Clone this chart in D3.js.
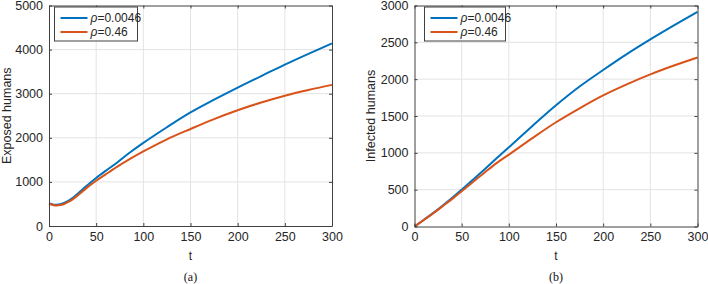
<!DOCTYPE html>
<html><head><meta charset="utf-8">
<script src="https://cdn.jsdelivr.net/npm/d3@7/dist/d3.min.js"></script>
<style>
body{margin:0;background:#fff;}
svg{display:block;}
text{font-family:"Liberation Sans",Arial,Helvetica,sans-serif;}
</style></head><body>
<svg id="chart" width="708" height="284"></svg>
<script>
const tValues = [0,4,8,12,16,20,25,31,40,50,60,72,85,100,125,150,175,200,225,250,275,300];
const exposedLow  = [510,490,484,495,525,565,635,745,915,1090,1250,1435,1655,1885,2240,2575,2865,3140,3400,3660,3905,4140];
const exposedHigh = [510,478,466,474,500,540,605,705,865,1025,1170,1340,1510,1690,1965,2200,2425,2625,2800,2955,3085,3200];
const tValuesB = [0,10,20,30,40,50,62,75,87,100,125,150,175,200,225,250,275,300];
const infectedLow  = [0,92,185,285,390,500,635,785,925,1075,1365,1645,1900,2125,2340,2540,2730,2915];
const infectedHigh = [0,90,180,277,375,478,605,740,860,975,1200,1415,1605,1780,1930,2065,2185,2295];
const xTicks = [0,50,100,150,200,250,300];
const yTicksA = [0,1000,2000,3000,4000,5000];
const yTicksB = [0,500,1000,1500,2000,2500,3000];
const legendLabels = ["0.0046","0.46"];
const colors = ["#0072BD","#D95319"];

const svg = d3.select("#chart");

function panel(o){
  const g = svg.append("g");
  const x = d3.scaleLinear().domain([0,300]).range([o.x0,o.x1]);
  const y = d3.scaleLinear().domain([0,o.ymax]).range([o.y0,o.y1]);
  // grid
  g.append("g").selectAll("line").data(xTicks.slice(1,-1)).join("line")
    .attr("x1",d=>x(d)).attr("x2",d=>x(d)).attr("y1",o.y0).attr("y2",o.y1)
    .attr("stroke","#e3e3e3").attr("stroke-width",1);
  g.append("g").selectAll("line").data(o.yTicks.slice(1,-1)).join("line")
    .attr("y1",d=>y(d)).attr("y2",d=>y(d)).attr("x1",o.x0).attr("x2",o.x1)
    .attr("stroke","#e3e3e3").attr("stroke-width",1);
  // lines
  const line = d3.line().x(d=>x(d[0])).y(d=>y(d[1])).curve(d3.curveCatmullRom.alpha(0.5));
  o.series.forEach((s,i)=>{
    g.append("path").datum(o.t.map((t,j)=>[t,s[j]]))
      .attr("d",line).attr("fill","none").attr("stroke",colors[i]).attr("stroke-width",2);
  });
  // axes
  const ax = "#404040";
  const fmt = d3.format("d");
  const xb = d3.axisBottom(x).tickValues(xTicks).tickFormat(fmt).tickSizeInner(-3).tickSizeOuter(0).tickPadding(6);
  const xt = d3.axisTop(x).tickValues(xTicks).tickSizeInner(-3).tickSizeOuter(0).tickFormat("");
  const yl = d3.axisLeft(y).tickValues(o.yTicks).tickFormat(fmt).tickSizeInner(-3).tickSizeOuter(0).tickPadding(6);
  const yr = d3.axisRight(y).tickValues(o.yTicks).tickSizeInner(-3).tickSizeOuter(0).tickFormat("");
  const style = sel=>{
    sel.selectAll("path").attr("stroke",ax).attr("stroke-width",1);
    sel.selectAll("line").attr("stroke",ax);
    sel.selectAll("text").attr("fill","#262626").style("font-size","12.5px")
      .style("font-family",'"Liberation Sans",Arial,sans-serif');
  };
  g.append("g").attr("transform",`translate(0,${o.y0})`).call(xb).call(style);
  g.append("g").attr("transform",`translate(0,${o.y1})`).call(xt).call(style);
  g.append("g").attr("transform",`translate(${o.x0},0)`).call(yl).call(style);
  g.append("g").attr("transform",`translate(${o.x1},0)`).call(yr).call(style);
  // labels
  g.append("text").attr("x",(o.x0+o.x1)/2).attr("y",260).attr("text-anchor","middle")
    .attr("fill","#262626").style("font-size","12px").text("t");
  g.append("text").attr("transform",`translate(${o.ylabX},${(o.y0+o.y1)/2}) rotate(-90)`)
    .attr("text-anchor","middle").attr("fill","#262626").style("font-size","12.5px").text(o.ylabel);
  g.append("text").attr("x",(o.x0+o.x1)/2).attr("y",281).attr("text-anchor","middle")
    .attr("fill","#111").style("font-family",'"Liberation Serif","Times New Roman",serif')
    .style("font-size","12px").text(o.cap);
  // legend
  const lg = g.append("g");
  lg.append("rect").attr("x",o.lx).attr("y",7).attr("width",o.lw).attr("height",34)
    .attr("fill","#fff").attr("stroke","#404040").attr("stroke-width",1);
  legendLabels.forEach((lab,i)=>{
    const yy = 18 + i*14;
    lg.append("line").attr("x1",o.lx+6).attr("x2",o.lx+33).attr("y1",yy).attr("y2",yy)
      .attr("stroke",colors[i]).attr("stroke-width",2);
    const t = lg.append("text").attr("x",o.lx+36).attr("y",yy+4).attr("fill","#262626").style("font-size","12px");
    t.append("tspan").style("font-style","italic").text("ρ");
    t.append("tspan").text("=" + lab);
  });
}

panel({x0:49,x1:332,y0:226,y1:5.5,ymax:5000,yTicks:yTicksA,t:tValues,series:[exposedLow,exposedHigh],
  ylabel:"Exposed humans",ylabX:10.5,cap:"(a)",lx:54.5,lw:83});
panel({x0:414.5,x1:697.5,y0:226.5,y1:5.5,ymax:3000,yTicks:yTicksB,t:tValuesB,series:[infectedLow,infectedHigh],
  ylabel:"Infected humans",ylabX:375,cap:"(b)",lx:424.5,lw:81});
</script></body></html>
